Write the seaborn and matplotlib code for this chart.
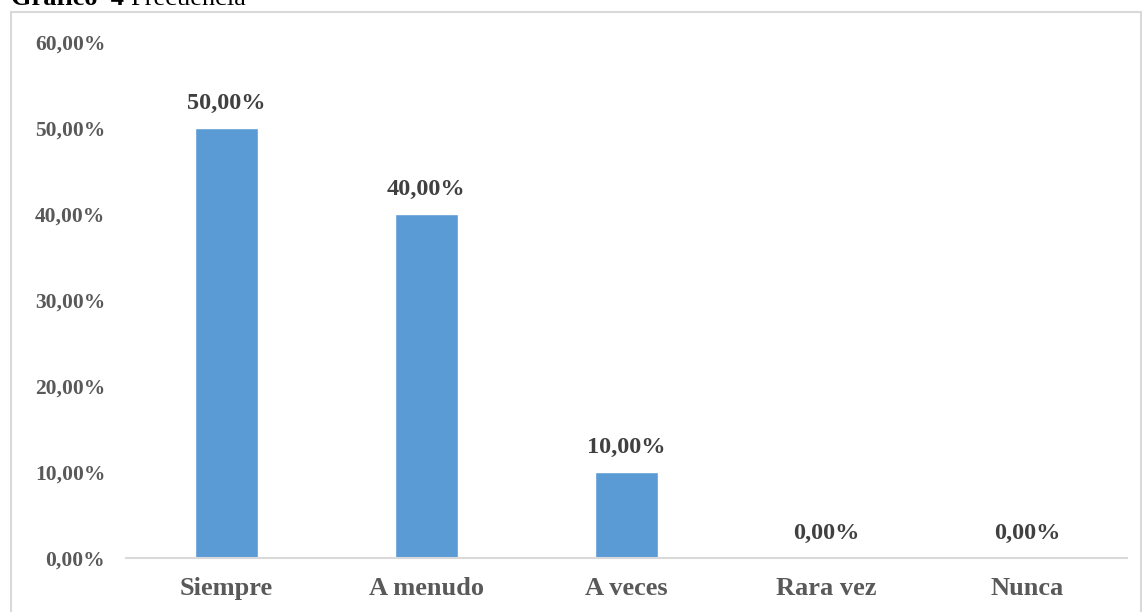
import matplotlib
matplotlib.use("Agg")
import matplotlib.pyplot as plt
import seaborn as sns
import pandas as pd
from matplotlib.patches import Rectangle

categories = ["Siempre", "A menudo", "A veces", "Rara vez", "Nunca"]
values = [50.0, 40.0, 10.0, 0.0, 0.0]
yticks = [0, 10, 20, 30, 40, 50, 60]
title_bold = "Gráfico  4 "
title_rest = "Frecuencia"

def pct(v):
    return f"{v:.2f}".replace(".", ",") + "%"

sns.set_theme(style="white")
plt.rcParams['font.family'] = ['Liberation Serif', 'DejaVu Serif']

W, H = 1142, 612
fig = plt.figure(figsize=(W / 100, H / 100), dpi=100)
ax = fig.add_axes([126 / W, 1 - 558 / H, (1127 - 126) / W, (558 - 42) / H])

df = pd.DataFrame({"cat": categories, "val": values})
sns.barplot(data=df, x="cat", y="val", color="#5B9BD5", width=0.315,
            saturation=1, ax=ax)

gray = "#595959"
ax.set_ylim(0, 60)
ax.set_xlim(-0.5, len(categories) - 0.5)
ax.set_yticks(yticks)
ax.set_yticklabels([pct(v) for v in yticks], fontsize=15.5, fontweight="bold", color=gray)
ax.set_xticklabels(categories, fontsize=19, fontweight="bold", color=gray)
ax.tick_params(axis="y", length=0, pad=15)
ax.tick_params(axis="x", length=0, pad=14)
ax.set_xlabel("")
ax.set_ylabel("")
for s in ["top", "right", "left"]:
    ax.spines[s].set_visible(False)
ax.spines["bottom"].set_color("#D9D9D9")
ax.spines["bottom"].set_linewidth(1.5)

for i, v in enumerate(values):
    ax.annotate(pct(v), (i, v), xytext=(0, 10), textcoords="offset points",
                ha="center", va="bottom", fontsize=17.5, fontweight="bold", color="#404040")

# outer chart frame
fig.patches.append(Rectangle((11 / W, -0.01), (W - 12) / W, 1 - 12 / H + 0.01,
                             transform=fig.transFigure, fill=False,
                             edgecolor="#D9D9D9", linewidth=1.5))

t1 = fig.text(11 / W, 1 - 5 / H, title_bold, fontsize=19, fontweight="bold",
              color="black", va="baseline", ha="left")
fig.canvas.draw()
bb = t1.get_window_extent()
fig.text(bb.x1 / W, 1 - 5 / H, title_rest, fontsize=19, color="black",
         va="baseline", ha="left")

fig.savefig("out.png", dpi=100)
